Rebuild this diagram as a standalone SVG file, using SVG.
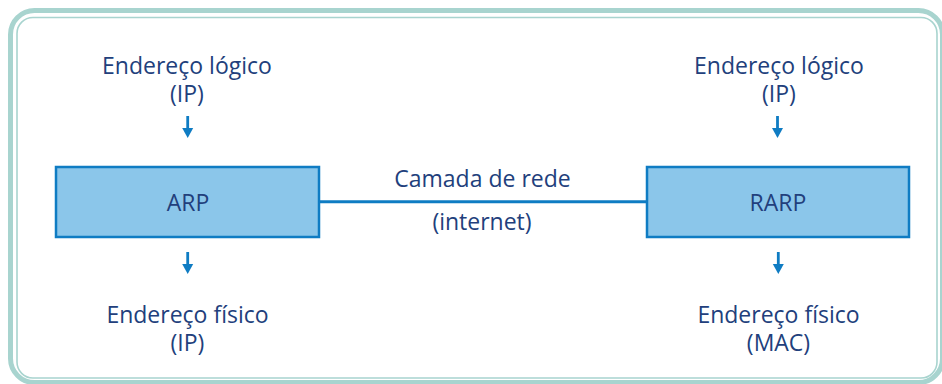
<svg xmlns="http://www.w3.org/2000/svg" width="942" height="384" viewBox="0 0 942 384">
<style>
.t{font-family:"Open Sans","Noto Sans","Liberation Sans",sans-serif;font-size:23px;fill:#223f7c;text-anchor:middle}
.box{fill:#8bc6ea;stroke:#0f7cc3;stroke-width:2.5}
.ln{stroke:#0f7cc3;stroke-width:3;fill:none}
.ar{fill:#0f7cc3}
</style>
<defs>
<g id="arrow"><rect class="ar" x="-1.4" y="0" width="2.8" height="13"/><polygon class="ar" points="-5.5,12 5.5,12 0,22"/></g>
</defs>
<g id="frame">
<rect x="10.5" y="10.5" width="932" height="372" rx="24" fill="none" stroke="#a8d4cf" stroke-width="5"/>
<rect x="17" y="17.5" width="920" height="360.5" rx="16" fill="none" stroke="#a8d4cf" stroke-width="1.6"/>
</g>
<g id="connectors">
<line class="ln" x1="319" y1="201.7" x2="647" y2="201.7"/>
<use href="#arrow" x="187.7" y="116"/>
<use href="#arrow" x="777.5" y="116"/>
<use href="#arrow" x="187.7" y="252"/>
<use href="#arrow" x="778.3" y="252"/>
</g>
<g id="arp">
<rect class="box" x="56" y="167" width="263" height="70"/>
<text class="t" x="188" y="211">ARP</text>
</g>
<g id="rarp">
<rect class="box" x="647" y="167" width="262" height="70"/>
<text class="t" x="778" y="211">RARP</text>
</g>
<g id="camada">
<text class="t" x="482.5" y="187">Camada de rede</text>
<text class="t" x="482" y="230">(internet)</text>
</g>
<g id="ip-left-top">
<text class="t" x="187" y="74">Endereço lógico</text>
<text class="t" x="187" y="102">(IP)</text>
</g>
<g id="ip-right-top">
<text class="t" x="779" y="74">Endereço lógico</text>
<text class="t" x="779" y="102">(IP)</text>
</g>
<g id="fis-left">
<text class="t" x="187.5" y="322.7">Endereço físico</text>
<text class="t" x="187.5" y="350.7">(IP)</text>
</g>
<g id="fis-right">
<text class="t" x="778.5" y="322.7">Endereço físico</text>
<text class="t" x="778.5" y="350.7">(MAC)</text>
</g>
</svg>
